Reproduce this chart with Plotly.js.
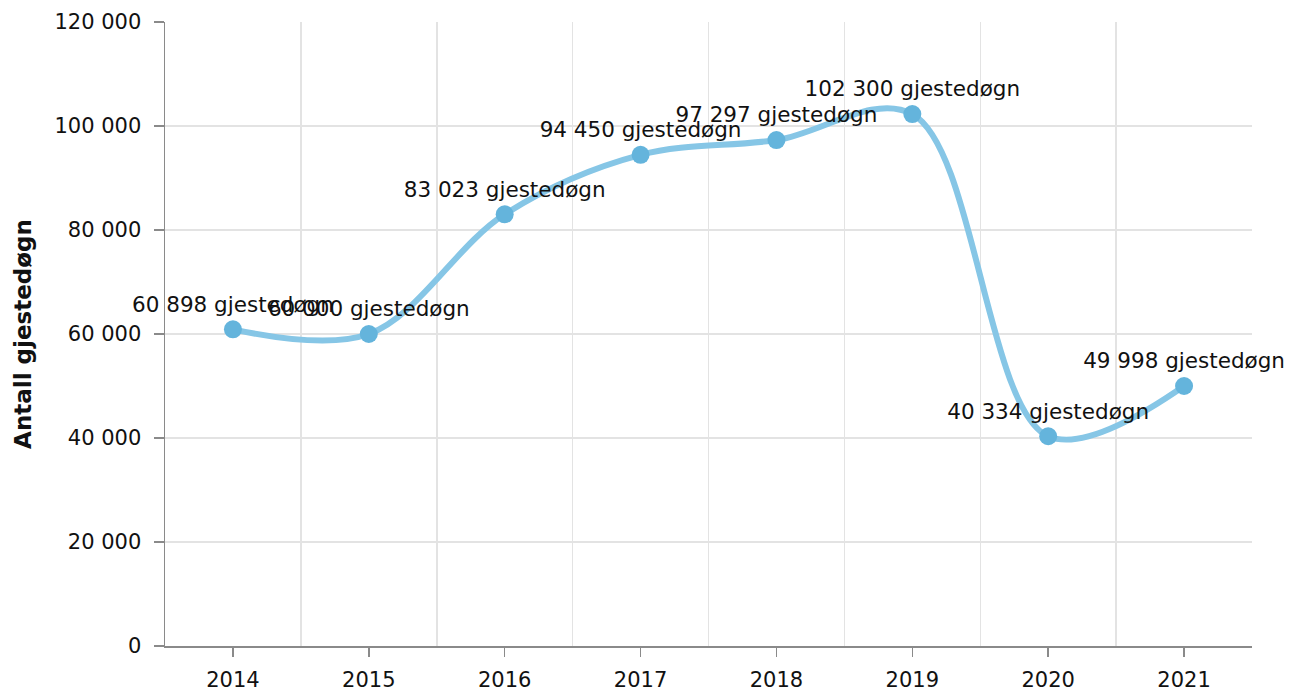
<!DOCTYPE html>
<html>
<head>
<meta charset="utf-8">
<script src="https://cdn.plot.ly/plotly-3.0.1.min.js"></script>
<style>html,body{margin:0;padding:0;background:#fff;}#chart{width:1304px;height:693px;}</style>
</head>
<body>
<div id="chart"></div>
<script>
var years = ["2014","2015","2016","2017","2018","2019","2020","2021"];
var guestNights = [60898, 60000, 83023, 94450, 97297, 102300, 40334, 49998];
var yTicks = [0, 20000, 40000, 60000, 80000, 100000, 120000];

var idx = years.map(function(_, i){ return i; });
var bounds = years.map(function(_, i){ return i + 0.5; });

var trace = {
  x: idx,
  y: guestNights,
  type: 'scatter',
  mode: 'lines+markers+text',
  line: {shape: 'spline', smoothing: 1, color: 'rgb(134,198,230)', width: 6},
  marker: {size: 18, color: 'rgb(100,180,220)'},
  texttemplate: '%{y:,} gjestedøgn',
  textposition: 'top center',
  textfont: {family: 'DejaVu Sans, Verdana, sans-serif', size: 21.5, color: '#111'},
  cliponaxis: false,
  hoverinfo: 'none'
};

var layout = {
  width: 1304, height: 693,
  margin: {l: 165, r: 52, t: 22, b: 47},
  separators: ', ',
  showlegend: false,
  paper_bgcolor: '#fff', plot_bgcolor: '#fff',
  font: {family: 'DejaVu Sans, Verdana, sans-serif', size: 21, color: '#111'},
  xaxis: {
    range: [-0.5, 7.5],
    tickvals: idx, ticktext: years,
    showgrid: false, zeroline: false,
    showline: true, linecolor: '#8a8a8a', linewidth: 1.5,
    ticks: 'outside', ticklen: 9, tickcolor: '#8a8a8a', tickwidth: 1.5,
    ticklabelstandoff: 5,
    tickfont: {size: 21},
    minor: {tickvals: bounds, ticks: '', showgrid: true, gridcolor: '#e3e3e3', gridwidth: 1.5},
    fixedrange: true
  },
  yaxis: {
    range: [0, 120000],
    tickvals: yTicks, tickformat: ',',
    showgrid: true, gridcolor: '#e3e3e3', gridwidth: 1.5,
    zeroline: false,
    showline: true, linecolor: '#8a8a8a', linewidth: 1.5,
    ticks: 'outside', ticklen: 10, tickcolor: '#8a8a8a', tickwidth: 1.5,
    ticklabelstandoff: 8,
    tickfont: {size: 21},
    title: {text: '<b>Antall gjestedøgn</b>', font: {size: 23, color: '#111'}, standoff: 16},
    fixedrange: true
  }
};

Plotly.newPlot('chart', [trace], layout, {displayModeBar: false, staticPlot: true});
</script>
</body>
</html>
